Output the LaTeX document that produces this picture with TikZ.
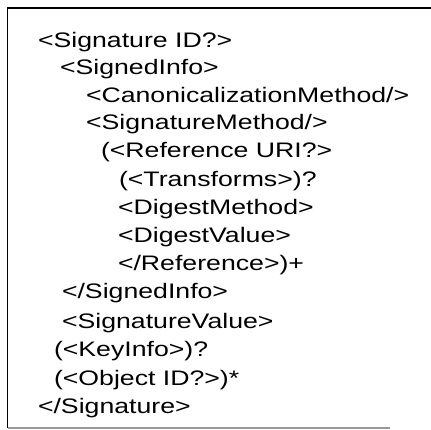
\documentclass[tikz,border=0pt]{standalone}
\usepackage{fontspec}
\setmainfont[FakeStretch=1.27]{Liberation Sans}
\begin{document}
\begin{tikzpicture}[x=1pt,y=-1pt,
  codeline/.style={anchor=base west,inner sep=0pt,outer sep=0pt,font=\fontsize{21}{21}\selectfont},
  frameline/.style={line width=1.8pt,black},
  faintline/.style={line width=1.2pt,black!40}]
\useasboundingbox (0,0) rectangle (431,430);
% frame: left and top edges, faint bottom edge
\coordinate (tl) at (7.5,8);
\coordinate (tr) at (431,8);
\coordinate (bl) at (7.5,428);
\coordinate (br) at (390,428);
\draw[frameline] (tr) -- (tl) -- (bl);
\draw[faintline] (bl) -- (br);
% XML signature structure
\node[codeline] (l1)  at (38,48)  {<Signature ID?>};
\node[codeline] (l2)  at (60,75)  {<SignedInfo>};
\node[codeline] (l3)  at (86,103) {<CanonicalizationMethod/>};
\node[codeline] (l4)  at (86,130) {<SignatureMethod/>};
\node[codeline] (l5)  at (101,158) {(<Reference URI?>};
\node[codeline] (l6)  at (119,187) {(<Transforms>)?};
\node[codeline] (l7)  at (118,215) {<DigestMethod>};
\node[codeline] (l8)  at (118,243) {<DigestValue>};
\node[codeline] (l9)  at (118,271) {</Reference>)+};
\node[codeline] (l10) at (62,299) {</SignedInfo>};
\node[codeline] (l11) at (62,328) {<SignatureValue>};
\node[codeline] (l12) at (54,356) {(<KeyInfo>)?};
\node[codeline] (l13) at (54,385) {(<Object ID?>)*};
\node[codeline] (l14) at (38,413) {</Signature>};
\end{tikzpicture}
\end{document}
